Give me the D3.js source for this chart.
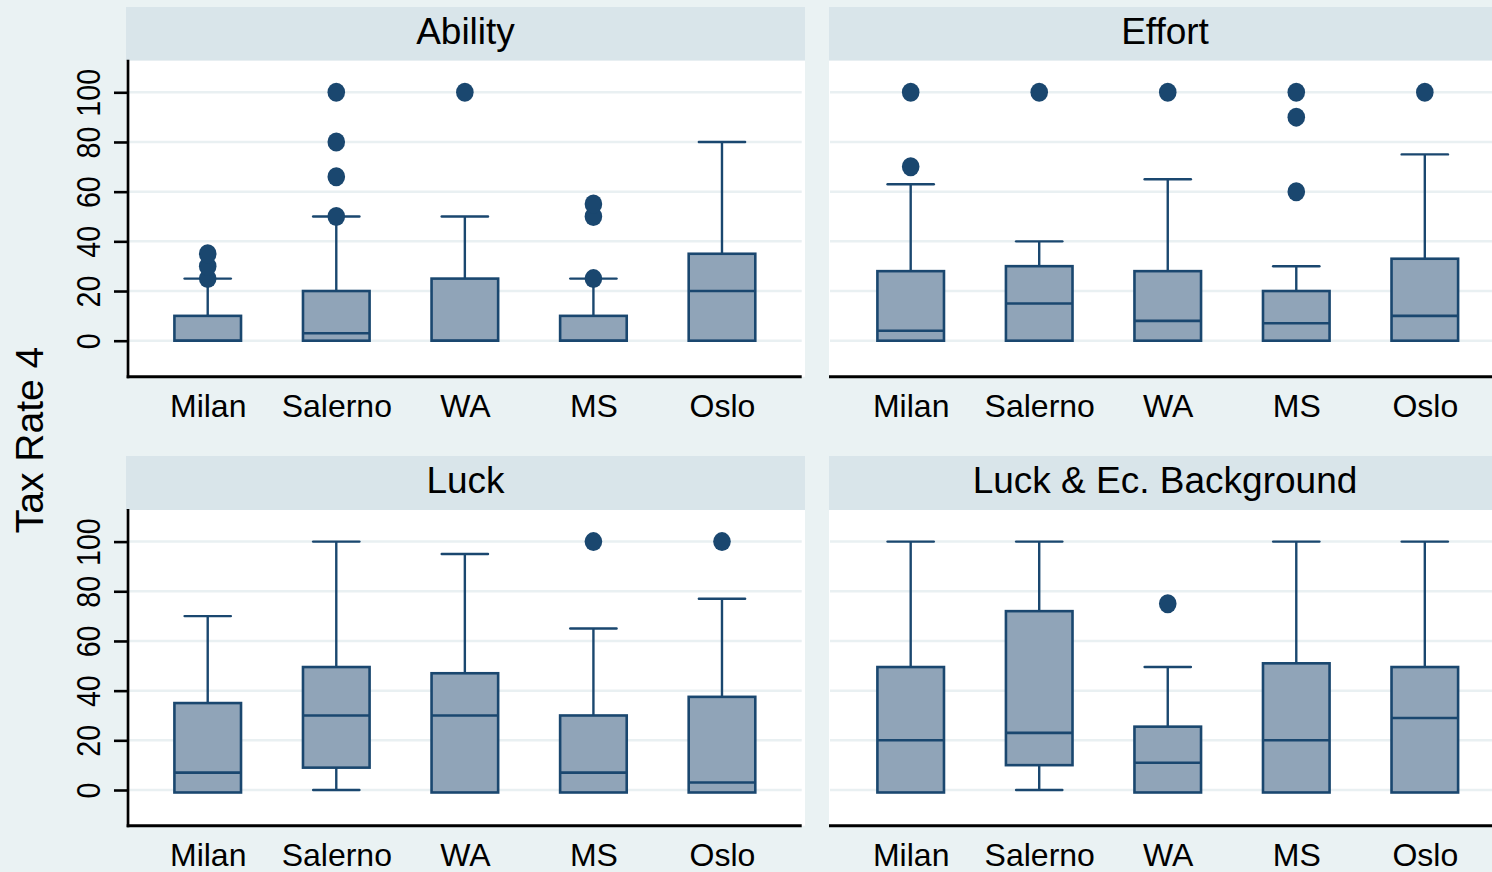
<!DOCTYPE html>
<html>
<head>
<meta charset="utf-8">
<script src="https://cdn.jsdelivr.net/npm/d3@7"></script>
<style>
  html, body { margin: 0; padding: 0; background: #eaf2f3; }
  svg { display: block; font-family: "Liberation Sans", Arial, Helvetica, sans-serif; }
</style>
</head>
<body>
<svg id="chart" width="1492" height="872"></svg>
<script>
// Categories and axis ticks
const categories = ["Milan", "Salerno", "WA", "MS", "Oslo"];
const panelTitles = ["Ability", "Effort", "Luck", "Luck & Ec. Background"];
const yTicks = [0, 20, 40, 60, 80, 100];
const yTitle = "Tax Rate 4";

// Ability: box statistics per category
const abilityQ1 = [0, 0, 0, 0, 0];
const abilityMedian = [0, 3, 0, 0, 20];
const abilityQ3 = [10, 20, 25, 10, 35];
const abilityLow = [0, 0, 0, 0, 0];
const abilityHigh = [25, 50, 50, 25, 80];
const abilityOutliers = [[25, 30, 35], [50, 66, 80, 100], [100], [25, 50, 55], []];

// Effort
const effortQ1 = [0, 0, 0, 0, 0];
const effortMedian = [4, 15, 8, 7, 10];
const effortQ3 = [28, 30, 28, 20, 33];
const effortLow = [0, 0, 0, 0, 0];
const effortHigh = [63, 40, 65, 30, 75];
const effortOutliers = [[70, 100], [100], [100], [60, 90, 100], [100]];

// Luck
const luckQ1 = [-1, 9, -1, -1, -1];
const luckMedian = [7, 30, 30, 7, 3];
const luckQ3 = [35, 49.5, 47, 30, 37.5];
const luckLow = [-1, 0, -1, -1, -1];
const luckHigh = [70, 100, 95, 65, 77];
const luckOutliers = [[], [], [], [100], [100]];

// Luck & Ec. Background
const ecQ1 = [-1, 10, -1, -1, -1];
const ecMedian = [20, 23, 11, 20, 29];
const ecQ3 = [49.5, 72, 25.5, 51, 49.5];
const ecLow = [-1, 0, -1, -1, -1];
const ecHigh = [100, 100, 49.5, 100, 100];
const ecOutliers = [[], [], [75], [], []];

function rows(q1, med, q3, lo, hi, out) {
  return categories.map((c, i) => ({
    cat: c, q1: q1[i], median: med[i], q3: q3[i], lo: lo[i], hi: hi[i], outliers: out[i]
  }));
}

const panelData = [
  rows(abilityQ1, abilityMedian, abilityQ3, abilityLow, abilityHigh, abilityOutliers),
  rows(effortQ1, effortMedian, effortQ3, effortLow, effortHigh, effortOutliers),
  rows(luckQ1, luckMedian, luckQ3, luckLow, luckHigh, luckOutliers),
  rows(ecQ1, ecMedian, ecQ3, ecLow, ecHigh, ecOutliers)
];

// Layout of the 2x2 grid
const columns = [
  { hx0: 126, hx1: 805, px0: 128, px1: 801.7, gx0: 128, gx1: 801.7 },
  { hx0: 829, hx1: 1501, px0: 831, px1: 1504.5, gx0: 830, gx1: 1510 }
];
const rowsLayout = [
  { hy0: 7, top: 60.7, bottom: 376.7 },
  { hy0: 456, top: 510, bottom: 825.7 }
];

const NAVY = "#1a476f";
const BOXFILL = "#90a4b8";
const HEADER = "#d9e5ea";
const GRID = "#e9f0f2";

const svg = d3.select("#chart");

panelTitles.forEach((title, p) => {
  const col = columns[p % 2];
  const row = rowsLayout[Math.floor(p / 2)];
  const data = panelData[p];
  const g = svg.append("g");

  const x = d3.scalePoint().domain(categories).range([col.px0, col.px1]).padding(0.62);
  const step = x.step();
  const y = d3.scaleLinear().domain([0, 100]).range([row.top + 280, row.top + 31.6]);
  const boxW = step * 0.518;
  const capW = step * 0.36;

  // header strip with the panel title
  g.append("rect")
    .attr("x", col.hx0).attr("y", row.hy0)
    .attr("width", col.hx1 - col.hx0).attr("height", row.top - row.hy0)
    .attr("fill", HEADER);
  g.append("text")
    .attr("x", (col.hx0 + col.hx1) / 2)
    .attr("y", row.hy0 + 36.5)
    .attr("text-anchor", "middle")
    .attr("font-size", 37)
    .attr("fill", "#000")
    .text(title);

  // white plot region
  g.append("rect")
    .attr("x", col.hx0).attr("y", row.top)
    .attr("width", col.hx1 - col.hx0).attr("height", row.bottom - row.top)
    .attr("fill", "#ffffff");

  // horizontal gridlines
  g.append("g").selectAll("line").data(yTicks).join("line")
    .attr("x1", col.gx0).attr("x2", col.gx1)
    .attr("y1", d => y(d)).attr("y2", d => y(d))
    .attr("stroke", GRID).attr("stroke-width", 2.5);

  // whiskers
  const wg = g.append("g").attr("stroke", NAVY).attr("stroke-width", 2.4).attr("fill", "none");
  wg.selectAll("line.up").data(data).join("line").attr("class", "up")
    .attr("x1", d => x(d.cat)).attr("x2", d => x(d.cat))
    .attr("y1", d => y(d.q3)).attr("y2", d => y(d.hi));
  wg.selectAll("line.down").data(data.filter(d => d.lo < d.q1)).join("line").attr("class", "down")
    .attr("x1", d => x(d.cat)).attr("x2", d => x(d.cat))
    .attr("y1", d => y(d.q1)).attr("y2", d => y(d.lo));

  // boxes
  g.append("g").selectAll("rect").data(data).join("rect")
    .attr("x", d => x(d.cat) - boxW / 2)
    .attr("y", d => y(d.q3))
    .attr("width", boxW)
    .attr("height", d => y(d.q1) - y(d.q3))
    .attr("fill", BOXFILL)
    .attr("stroke", NAVY).attr("stroke-width", 2.6);

  // medians
  g.append("g").selectAll("line").data(data).join("line")
    .attr("x1", d => x(d.cat) - boxW / 2).attr("x2", d => x(d.cat) + boxW / 2)
    .attr("y1", d => y(d.median)).attr("y2", d => y(d.median))
    .attr("stroke", NAVY).attr("stroke-width", 2.6);

  // whisker caps
  const cg = g.append("g").attr("stroke", NAVY).attr("stroke-width", 2.4).attr("stroke-linecap", "round");
  cg.selectAll("line.capHi").data(data).join("line").attr("class", "capHi")
    .attr("x1", d => x(d.cat) - capW / 2).attr("x2", d => x(d.cat) + capW / 2)
    .attr("y1", d => y(d.hi)).attr("y2", d => y(d.hi));
  cg.selectAll("line.capLo").data(data.filter(d => d.lo < d.q1)).join("line").attr("class", "capLo")
    .attr("x1", d => x(d.cat) - capW / 2).attr("x2", d => x(d.cat) + capW / 2)
    .attr("y1", d => y(d.lo)).attr("y2", d => y(d.lo));

  // outside values
  const pts = data.flatMap(d => d.outliers.map(v => ({ cat: d.cat, v })));
  g.append("g").selectAll("ellipse").data(pts).join("ellipse")
    .attr("cx", d => x(d.cat)).attr("cy", d => y(d.v))
    .attr("rx", 8.8).attr("ry", 9.5)
    .attr("fill", NAVY);

  // category axis
  const xAxis = g.append("g")
    .attr("transform", `translate(0,${row.bottom})`)
    .call(d3.axisBottom(x).tickSize(0).tickSizeOuter(0));
  xAxis.select(".domain").remove();
  xAxis.selectAll("text")
    .attr("y", 40).attr("dy", null)
    .attr("font-size", 32)
    .attr("font-family", "'Liberation Sans', Arial, sans-serif")
    .attr("fill", "#000");
  g.append("line")
    .attr("x1", p % 2 === 0 ? 126.7 : 829).attr("x2", p % 2 === 0 ? 801.7 : 1510)
    .attr("y1", row.bottom).attr("y2", row.bottom)
    .attr("stroke", "#000").attr("stroke-width", 3);

  // value axis on the left column only
  if (p % 2 === 0) {
    const yAxis = g.append("g")
      .attr("transform", `translate(${col.px0},0)`)
      .call(d3.axisLeft(y).tickValues(yTicks).tickSize(14).tickSizeOuter(0));
    yAxis.select(".domain").remove();
    yAxis.selectAll(".tick line").attr("stroke", "#000").attr("stroke-width", 2.6);
    yAxis.selectAll("text")
      .attr("x", null).attr("dy", null)
      .attr("text-anchor", "middle")
      .attr("transform", "translate(-28,0) rotate(-90) scale(0.88,1)")
      .attr("font-size", 32.5)
      .attr("font-family", "'Liberation Sans', Arial, sans-serif")
      .attr("fill", "#000");
    g.append("line")
      .attr("x1", col.px0).attr("x2", col.px0)
      .attr("y1", row.top - 1).attr("y2", row.bottom + 1.5)
      .attr("stroke", "#000").attr("stroke-width", 2.7);
  }
});

// shared y-axis title
svg.append("text")
  .attr("transform", "translate(43,440) rotate(-90)")
  .attr("text-anchor", "middle")
  .attr("font-size", 39)
  .attr("fill", "#000")
  .text(yTitle);
</script>
</body>
</html>
